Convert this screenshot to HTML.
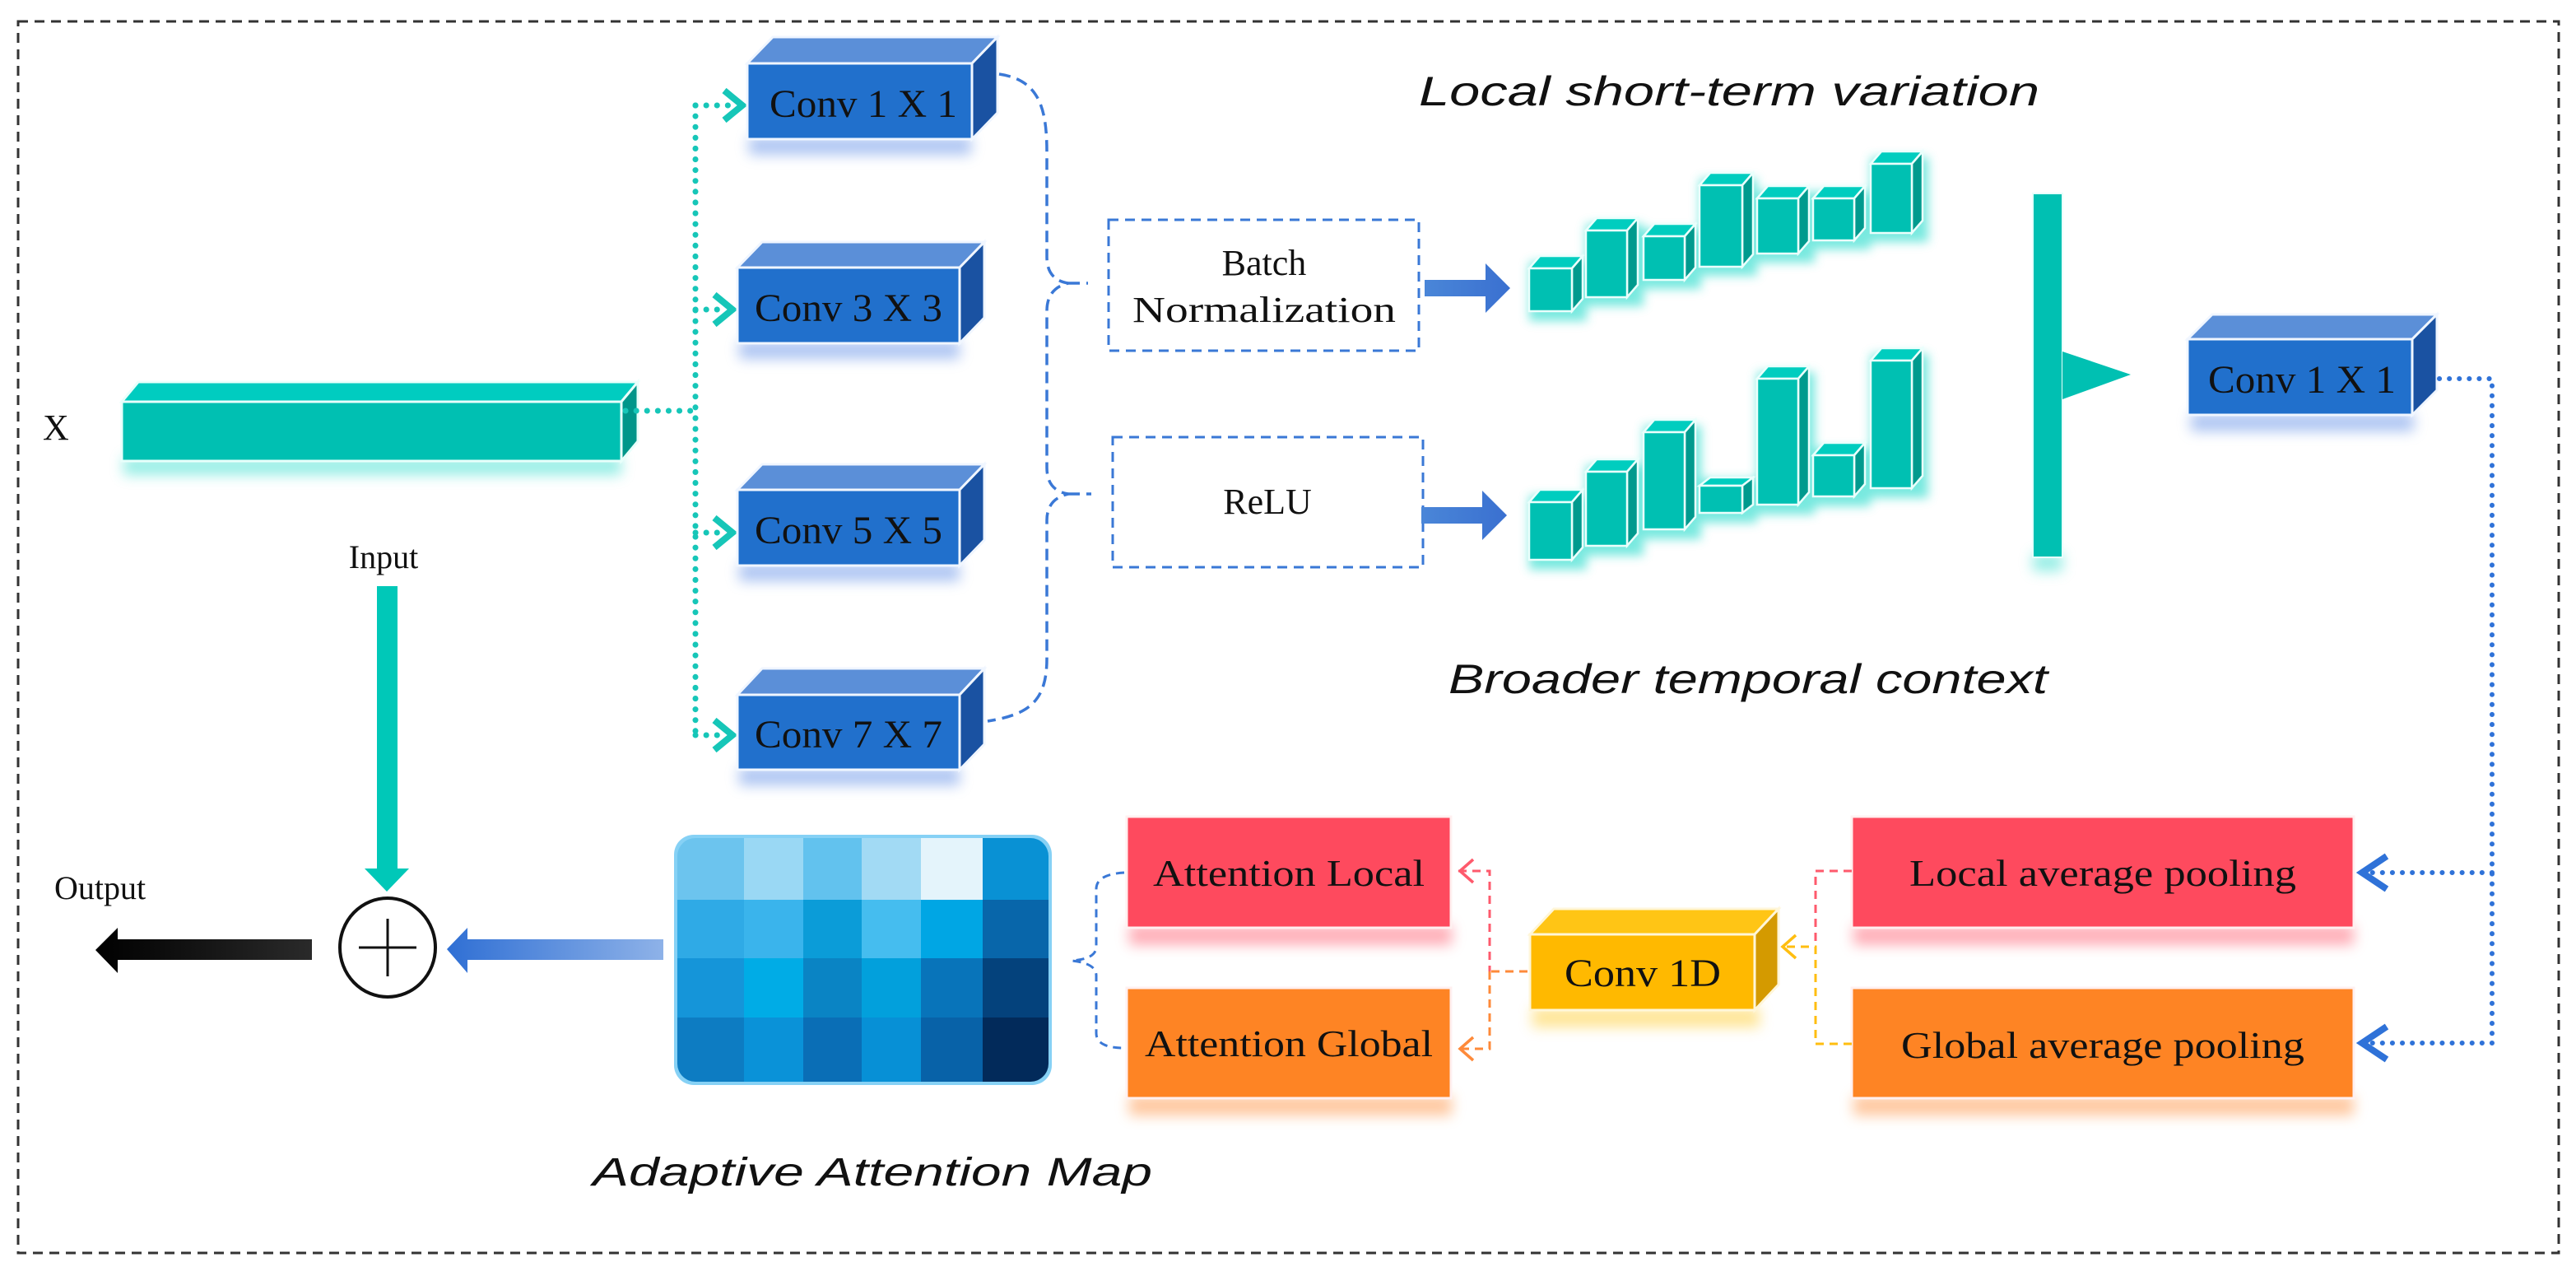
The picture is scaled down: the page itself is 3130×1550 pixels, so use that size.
<!DOCTYPE html>
<html><head><meta charset="utf-8"><style>
html,body{margin:0;padding:0;background:#fff}
svg{display:block}
.s{font-family:"Liberation Serif",serif;fill:#111}
.h{font-family:"Liberation Sans",sans-serif;font-style:italic;fill:#111}
</style></head><body>
<svg width="3130" height="1550" viewBox="0 0 3130 1550" xmlns="http://www.w3.org/2000/svg">
<defs>
<filter id="g" x="-20%" y="-20%" width="140%" height="160%"><feGaussianBlur stdDeviation="8"/></filter>
<filter id="g2" x="-20%" y="-20%" width="140%" height="140%"><feGaussianBlur stdDeviation="6"/></filter>
<linearGradient id="ba" x1="0" x2="1"><stop offset="0" stop-color="#4a86d8"/><stop offset="1" stop-color="#3a70d0"/></linearGradient>
<linearGradient id="bl" x1="0" x2="1"><stop offset="0" stop-color="#2f6fd4"/><stop offset="1" stop-color="#8eb2e8"/></linearGradient>
<linearGradient id="bk" x1="0" x2="1"><stop offset="0" stop-color="#000"/><stop offset="1" stop-color="#2a2a2a"/></linearGradient>
</defs>
<rect x="22" y="26" width="3087" height="1496" fill="none" stroke="#333" stroke-width="3" stroke-dasharray="12,8"/>

<!-- glows -->
<g filter="url(#g)" opacity="0.55">
<rect x="150" y="555" width="605" height="22" fill="#3fe0d0"/>
<rect x="910" y="166" width="270" height="22" fill="#6a95e8"/>
<rect x="898" y="414" width="268" height="22" fill="#6a95e8"/>
<rect x="898" y="684" width="268" height="22" fill="#6a95e8"/>
<rect x="898" y="932" width="268" height="22" fill="#6a95e8"/>
<rect x="2662" y="502" width="271" height="22" fill="#6a95e8"/>
<rect x="1372" y="1124" width="392" height="24" fill="#ff6a7c"/>
<rect x="1372" y="1331" width="392" height="24" fill="#ff9a50"/>
<rect x="2252" y="1124" width="608" height="24" fill="#ff6a7c"/>
<rect x="2252" y="1331" width="608" height="24" fill="#ff9a50"/>
<rect x="1862" y="1224" width="276" height="24" fill="#ffd040"/>
<rect x="2470" y="672" width="36" height="22" fill="#3fe0d0"/>
</g>

<text class="s" x="52" y="534" font-size="44">X</text>

<!-- long bar -->
<g stroke="#e8fffb" stroke-width="3">
<polygon points="148,488 168,464 775,464 755,488" fill="#00ccc0"/>
<polygon points="755,488 775,464 775,536 755,560" fill="#00968a"/>
<rect x="148" y="488" width="607" height="72" fill="#00c0b2"/>
</g>

<!-- teal dotted connectors -->
<g fill="none" stroke="#16c6b8" stroke-width="7" stroke-linecap="round" stroke-dasharray="0.1,13">
<path d="M760,499 L845,499"/>
<path d="M845,128 L845,893"/>
<path d="M845,128 L890,128 M845,376 L880,376 M845,647 L880,647 M845,893 L880,893"/>
</g>
<g fill="none" stroke="#16c6b8" stroke-width="8" stroke-linejoin="miter">
<path d="M880,110 L902,128 L880,146"/>
<path d="M868,358 L890,376 L868,394"/>
<path d="M868,629 L890,647 L868,665"/>
<path d="M868,875 L890,893 L868,911"/>
</g>

<!-- conv boxes -->
<g stroke="#f0f6ff" stroke-width="3">
<polygon points="908,77 939,45 1212,45 1181,77" fill="#5b8fd8"/>
<polygon points="1181,77 1212,45 1212,137 1181,169" fill="#1a52a2"/>
<rect x="908" y="77" width="273" height="92" fill="#2170cc"/>
<polygon points="896,325 926,294 1196,294 1166,325" fill="#5b8fd8"/>
<polygon points="1166,325 1196,294 1196,386 1166,417" fill="#1a52a2"/>
<rect x="896" y="325" width="270" height="92" fill="#2170cc"/>
<polygon points="896,595 926,564 1196,564 1166,595" fill="#5b8fd8"/>
<polygon points="1166,595 1196,564 1196,656 1166,687" fill="#1a52a2"/>
<rect x="896" y="595" width="270" height="92" fill="#2170cc"/>
<polygon points="896,844 926,812 1196,812 1166,844" fill="#5b8fd8"/>
<polygon points="1166,844 1196,812 1196,904 1166,935" fill="#1a52a2"/>
<rect x="896" y="844" width="270" height="91" fill="#2170cc"/>
<polygon points="2658,412 2688,382 2961,382 2931,412" fill="#5b8fd8"/>
<polygon points="2931,412 2961,382 2961,474 2931,504" fill="#1a52a2"/>
<rect x="2658" y="412" width="273" height="92" fill="#2170cc"/>
</g>
<g class="s" font-size="48">
<text x="1049" y="142" text-anchor="middle" textLength="228" lengthAdjust="spacingAndGlyphs">Conv 1 X 1</text>
<text x="1031" y="390" text-anchor="middle" textLength="228" lengthAdjust="spacingAndGlyphs">Conv 3 X 3</text>
<text x="1031" y="660" text-anchor="middle" textLength="228" lengthAdjust="spacingAndGlyphs">Conv 5 X 5</text>
<text x="1031" y="908" text-anchor="middle" textLength="228" lengthAdjust="spacingAndGlyphs">Conv 7 X 7</text>
<text x="2797" y="477" text-anchor="middle" textLength="228" lengthAdjust="spacingAndGlyphs">Conv 1 X 1</text>
</g>

<!-- blue dashed brace -->
<g fill="none" stroke="#3a78d6" stroke-width="3.5" stroke-dasharray="14,8">
<path d="M1214,90 C1262,97 1272,130 1272,185 L1272,312 Q1272,340 1298,344 Q1272,350 1272,378 L1272,568 Q1272,596 1298,600 Q1272,606 1272,632 L1272,800 C1272,852 1250,868 1200,876"/>
<path d="M1298,344 L1322,344 M1298,600 L1326,600"/>
</g>

<!-- dashed boxes -->
<g fill="#fff" stroke="#3a78d6" stroke-width="3" stroke-dasharray="12,8">
<rect x="1347" y="267" width="377" height="159"/>
<rect x="1352" y="531" width="377" height="158"/>
</g>
<g class="s" font-size="44" text-anchor="middle">
<text x="1536" y="334">Batch</text>
<text x="1536" y="391" textLength="320" lengthAdjust="spacingAndGlyphs">Normalization</text>
<text x="1540" y="624">ReLU</text>
</g>

<!-- blue block arrows -->
<polygon points="1731,340 1805,340 1805,320 1835,350 1805,380 1805,360 1731,360" fill="url(#ba)"/>
<polygon points="1727,616 1801,616 1801,596 1831,626 1801,656 1801,636 1727,636" fill="url(#ba)"/>

<!-- bar glows -->
<g filter="url(#g2)" fill="#40e0d2" opacity="0.7">
<rect x="1858" y="318" width="70" height="72"/><rect x="1927" y="272" width="70" height="100"/><rect x="1997" y="279" width="70" height="72"/><rect x="2065" y="217" width="70" height="118"/><rect x="2135" y="233" width="70" height="86"/><rect x="2203" y="233" width="70" height="70"/><rect x="2273" y="191" width="70" height="103"/>
<rect x="1858" y="602" width="70" height="90"/><rect x="1927" y="565" width="70" height="110"/><rect x="1997" y="517" width="70" height="138"/><rect x="2065" y="582" width="70" height="53"/><rect x="2135" y="452" width="70" height="173"/><rect x="2203" y="545" width="70" height="70"/><rect x="2273" y="430" width="70" height="175"/>
</g>
<!-- bars -->
<g stroke="#eafffc" stroke-width="2.5" fill="#00c0b2">
<polygon points="1858,326 1871,311 1923,311 1910,326" fill="#00cdbf"/><polygon points="1910,326 1923,311 1923,363 1910,378" fill="#009a8e"/><rect x="1858" y="326" width="52" height="52"/>
<polygon points="1927,280 1940,265 1990,265 1977,280" fill="#00cdbf"/><polygon points="1977,280 1990,265 1990,346 1977,361" fill="#009a8e"/><rect x="1927" y="280" width="50" height="81"/>
<polygon points="1997,287 2010,272 2060,272 2047,287" fill="#00cdbf"/><polygon points="2047,287 2060,272 2060,325 2047,340" fill="#009a8e"/><rect x="1997" y="287" width="50" height="53"/>
<polygon points="2065,225 2078,210 2130,210 2117,225" fill="#00cdbf"/><polygon points="2117,225 2130,210 2130,309 2117,324" fill="#009a8e"/><rect x="2065" y="225" width="52" height="99"/>
<polygon points="2135,241 2148,226 2198,226 2185,241" fill="#00cdbf"/><polygon points="2185,241 2198,226 2198,293 2185,308" fill="#009a8e"/><rect x="2135" y="241" width="50" height="67"/>
<polygon points="2203,241 2216,226 2266,226 2253,241" fill="#00cdbf"/><polygon points="2253,241 2266,226 2266,277 2253,292" fill="#009a8e"/><rect x="2203" y="241" width="50" height="51"/>
<polygon points="2273,199 2286,184 2336,184 2323,199" fill="#00cdbf"/><polygon points="2323,199 2336,184 2336,268 2323,283" fill="#009a8e"/><rect x="2273" y="199" width="50" height="84"/>

<polygon points="1858,610 1871,595 1923,595 1910,610" fill="#00cdbf"/><polygon points="1910,610 1923,595 1923,665 1910,680" fill="#009a8e"/><rect x="1858" y="610" width="52" height="70"/>
<polygon points="1927,573 1940,558 1990,558 1977,573" fill="#00cdbf"/><polygon points="1977,573 1990,558 1990,648 1977,663" fill="#009a8e"/><rect x="1927" y="573" width="50" height="90"/>
<polygon points="1997,525 2010,510 2060,510 2047,525" fill="#00cdbf"/><polygon points="2047,525 2060,510 2060,628 2047,643" fill="#009a8e"/><rect x="1997" y="525" width="50" height="118"/>
<polygon points="2065,590 2078,580 2130,580 2117,590" fill="#00cdbf"/><polygon points="2117,590 2130,580 2130,613 2117,623" fill="#009a8e"/><rect x="2065" y="590" width="52" height="33"/>
<polygon points="2135,460 2148,445 2198,445 2185,460" fill="#00cdbf"/><polygon points="2185,460 2198,445 2198,598 2185,613" fill="#009a8e"/><rect x="2135" y="460" width="50" height="153"/>
<polygon points="2203,553 2216,538 2266,538 2253,553" fill="#00cdbf"/><polygon points="2253,553 2266,538 2266,588 2253,603" fill="#009a8e"/><rect x="2203" y="553" width="50" height="50"/>
<polygon points="2273,438 2286,423 2336,423 2323,438" fill="#00cdbf"/><polygon points="2323,438 2336,423 2336,578 2323,593" fill="#009a8e"/><rect x="2273" y="438" width="50" height="155"/>
</g>

<text class="h" x="1724" y="128" font-size="50" textLength="754" lengthAdjust="spacingAndGlyphs">Local short-term variation</text>
<text class="h" x="1760" y="842" font-size="50" textLength="728" lengthAdjust="spacingAndGlyphs">Broader temporal context</text>

<!-- merge bar -->
<rect x="2470" y="235" width="36" height="442" fill="#00c0b2" stroke="#e8fffb" stroke-width="2"/>
<polygon points="2506,427 2589,455 2506,485" fill="#00c0b2"/>

<!-- right blue dotted -->
<g fill="none" stroke="#2f72d8" stroke-width="6" stroke-linecap="round" stroke-dasharray="0.1,12">
<path d="M2964,460 L3028,460 L3028,1267"/>
<path d="M3028,1060 L2880,1060 M3028,1267 L2880,1267"/>
</g>
<g fill="none" stroke="#2f72d8" stroke-width="8">
<path d="M2900,1040 L2870,1060 L2900,1080"/>
<path d="M2900,1247 L2870,1267 L2900,1287"/>
</g>

<!-- boxes bottom -->
<g stroke="#fff0f0" stroke-width="3">
<rect x="1369" y="992" width="394" height="135" fill="#fe4a5e"/>
<rect x="1369" y="1200" width="394" height="134" fill="#fe8424"/>
<rect x="2250" y="992" width="610" height="135" fill="#fe4a5e"/>
<rect x="2250" y="1200" width="610" height="134" fill="#fe8424"/>
</g>
<g class="s" font-size="46" text-anchor="middle">
<text x="1566" y="1076" textLength="330" lengthAdjust="spacingAndGlyphs">Attention Local</text>
<text x="1566" y="1283" textLength="350" lengthAdjust="spacingAndGlyphs">Attention Global</text>
<text x="2555" y="1076" textLength="470" lengthAdjust="spacingAndGlyphs">Local average pooling</text>
<text x="2555" y="1285" textLength="490" lengthAdjust="spacingAndGlyphs">Global average pooling</text>
</g>

<!-- conv1d -->
<g stroke="#fff6d8" stroke-width="3">
<polygon points="1859,1135 1888,1104 2161,1104 2132,1135" fill="#ffc515"/>
<polygon points="2132,1135 2161,1104 2161,1196 2132,1227" fill="#d49a00"/>
<rect x="1859" y="1135" width="273" height="92" fill="#ffb900"/>
</g>
<text class="s" x="1996" y="1198" font-size="48" text-anchor="middle" textLength="190" lengthAdjust="spacingAndGlyphs">Conv 1D</text>

<!-- dashed connectors near conv1d -->
<g fill="none" stroke-width="3" stroke-dasharray="10,7">
<path d="M1772,1058 L1810,1058 L1810,1180" stroke="#fe5a6c"/>
<path d="M1810,1180 L1810,1274 L1772,1274 M1812,1180 L1856,1180" stroke="#fe8a3a"/>
<path d="M2250,1058 L2206,1058 L2206,1150" stroke="#fe5a6c"/>
<path d="M2250,1268 L2206,1268 L2206,1150 L2170,1150" stroke="#ffbe10"/>
<path d="M1366,1060 Q1332,1062 1332,1080 L1332,1150 Q1332,1165 1302,1167 Q1332,1170 1332,1185 L1332,1255 Q1332,1273 1366,1273" stroke="#3a78d6"/>
</g>
<g fill="none" stroke-width="3.5">
<path d="M1790,1044 L1774,1058 L1790,1072" stroke="#fe5a6c"/>
<path d="M1790,1260 L1774,1274 L1790,1288" stroke="#fe8a3a"/>
<path d="M2182,1136 L2166,1150 L2182,1164" stroke="#ffbe10"/>
</g>

<!-- attention map -->
<g>
<clipPath id="mc"><rect x="823" y="1018" width="451" height="296" rx="22"/></clipPath>
<rect x="819" y="1014" width="459" height="304" rx="24" fill="#36b2ee" opacity="0.6"/>
<g clip-path="url(#mc)">
<rect x="823" y="1018" width="81" height="75" fill="#6cc4ee"/><rect x="904" y="1018" width="72" height="75" fill="#9ad8f4"/><rect x="976" y="1018" width="71" height="75" fill="#62c2ee"/><rect x="1047" y="1018" width="72" height="75" fill="#a2daf4"/><rect x="1119" y="1018" width="75" height="75" fill="#e4f4fb"/><rect x="1194" y="1018" width="80" height="75" fill="#0991d4"/>
<rect x="823" y="1093" width="81" height="71" fill="#2faae6"/><rect x="904" y="1093" width="72" height="71" fill="#3ab4ec"/><rect x="976" y="1093" width="71" height="71" fill="#0b9cd8"/><rect x="1047" y="1093" width="72" height="71" fill="#45bdef"/><rect x="1119" y="1093" width="75" height="71" fill="#00a6e4"/><rect x="1194" y="1093" width="80" height="71" fill="#0866aa"/>
<rect x="823" y="1164" width="81" height="72" fill="#1595d9"/><rect x="904" y="1164" width="72" height="72" fill="#00ace6"/><rect x="976" y="1164" width="71" height="72" fill="#0a84c4"/><rect x="1047" y="1164" width="72" height="72" fill="#02a0dc"/><rect x="1119" y="1164" width="75" height="72" fill="#0874ba"/><rect x="1194" y="1164" width="80" height="72" fill="#04427c"/>
<rect x="823" y="1236" width="81" height="78" fill="#0d7cc2"/><rect x="904" y="1236" width="72" height="78" fill="#0a92d8"/><rect x="976" y="1236" width="71" height="78" fill="#0a6eb6"/><rect x="1047" y="1236" width="72" height="78" fill="#0790d6"/><rect x="1119" y="1236" width="75" height="78" fill="#0862a8"/><rect x="1194" y="1236" width="80" height="78" fill="#022a5a"/>
</g>
</g>
<text class="h" x="720" y="1440" font-size="48" textLength="680" lengthAdjust="spacingAndGlyphs">Adaptive Attention Map</text>

<!-- input / output -->
<text class="s" x="466" y="690" font-size="40" text-anchor="middle">Input</text>
<rect x="458" y="712" width="25" height="345" fill="#00c8b8"/>
<polygon points="443,1055 497,1055 470,1083" fill="#00c8b8"/>
<ellipse cx="471" cy="1151" rx="58" ry="60" fill="#fff" stroke="#111" stroke-width="4"/>
<path d="M471,1116 L471,1186 M436,1151 L506,1151" stroke="#111" stroke-width="3"/>
<polygon points="543,1153 568,1127 568,1141 806,1141 806,1166 568,1166 568,1182" fill="url(#bl)"/>
<polygon points="116,1154 143,1127 143,1141 379,1141 379,1166 143,1166 143,1182" fill="url(#bk)"/>
<text class="s" x="66" y="1092" font-size="40">Output</text>
</svg>
</body></html>
